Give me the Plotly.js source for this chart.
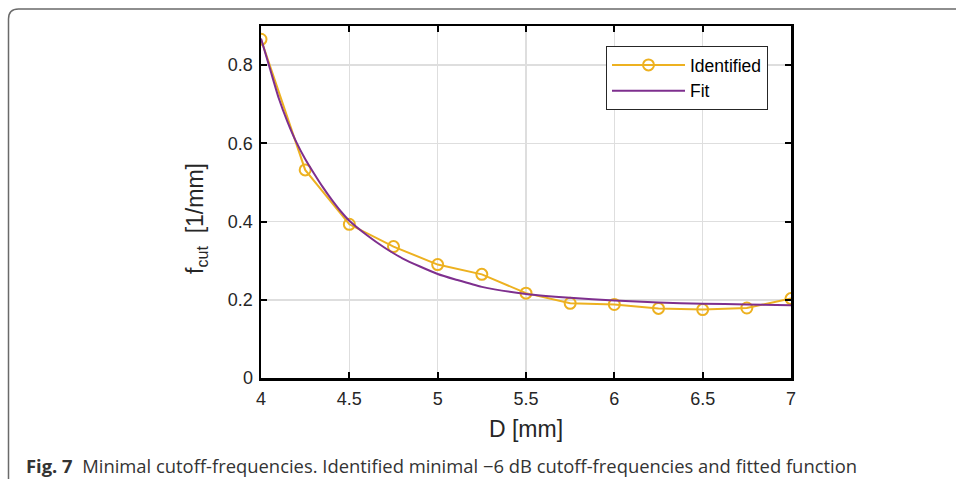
<!DOCTYPE html>
<html>
<head>
<meta charset="utf-8">
<script src="https://cdn.plot.ly/plotly-3.0.1.min.js"></script>
<style>
html,body{margin:0;padding:0;background:#fff;}
#chart{width:956px;height:479px;}
</style>
</head>
<body>
<div id="chart"></div>
<script>
// Identified minimal cutoff frequencies
const diameters = [4, 4.25, 4.5, 4.75, 5, 5.25, 5.5, 5.75, 6, 6.25, 6.5, 6.75, 7];
const identified = [0.866, 0.532, 0.393, 0.336, 0.290, 0.265, 0.217, 0.191, 0.188, 0.178, 0.175, 0.179, 0.203];
// Fitted function
const fitD = [4, 4.05, 4.1, 4.15, 4.2, 4.25, 4.3, 4.35, 4.4, 4.45, 4.5, 4.6, 4.7, 4.75, 4.8, 4.9, 5, 5.1, 5.25, 5.5, 5.75, 6, 6.25, 6.5, 6.75, 7];
const fitF = [0.868, 0.792, 0.716, 0.655, 0.603, 0.560, 0.523, 0.488, 0.456, 0.427, 0.402, 0.365, 0.333, 0.319, 0.306, 0.285, 0.266, 0.252, 0.233, 0.215, 0.205, 0.198, 0.193, 0.190, 0.188, 0.186];
const xTicks = [4, 4.5, 5, 5.5, 6, 6.5, 7];
const yTicks = [0, 0.2, 0.4, 0.6, 0.8];

const L = 261, R = 165, T = 26, B = 101;
const W = 956, H = 479;
const pw = W - L - R, ph = H - T - B;
const px = x => (x - L) / pw;
const py = y => (H - B - y) / ph;

const FONT = 'Liberation Sans, Arial, sans-serif';

const traces = [
  {
    x: diameters, y: identified, name: 'Identified', mode: 'lines+markers',
    line: {color: '#EDB120', width: 2},
    marker: {symbol: 'circle-open', size: 11, color: '#EDB120', line: {width: 2, color: '#EDB120'}}
  },
  {
    x: fitD, y: fitF, name: 'Fit', mode: 'lines',
    line: {color: '#7E2F8E', width: 2, shape: 'spline', smoothing: 0.6}
  }
];

const axisCommon = {
  showline: true, linecolor: '#000', linewidth: 2.5, mirror: 'ticks',
  ticks: 'inside', ticklen: 6, tickwidth: 2, tickcolor: '#000',
  showgrid: true, gridcolor: '#dedede', gridwidth: 1.5,
  zeroline: false,
  tickfont: {family: FONT, size: 18, color: '#262626'}
};

const layout = {
  width: W, height: H,
  margin: {l: L, r: R, t: T, b: B, pad: 0},
  paper_bgcolor: '#fff', plot_bgcolor: '#fff',
  showlegend: true,
  legend: {
    x: px(606), y: py(46), xanchor: 'left', yanchor: 'top',
    bordercolor: '#262626', borderwidth: 1, bgcolor: '#fff',
    font: {family: FONT, size: 17.5, color: '#000'},
    itemwidth: 73,
    tracegroupgap: 0
  },
  xaxis: Object.assign({}, axisCommon, {
    range: [4, 7], tickvals: xTicks, ticktext: xTicks.map(String),
    ticklabelstandoff: 3,
    title: {text: 'D [mm]', font: {family: FONT, size: 23, color: '#262626'}, standoff: 13}
  }),
  yaxis: Object.assign({}, axisCommon, {
    range: [0, 0.9], tickvals: yTicks, ticktext: yTicks.map(v => v === 0 ? '0' : v.toFixed(1)),
    ticklabelstandoff: 2
  }),
  annotations: [
    {
      xref: 'paper', yref: 'paper', x: px(196), y: py(219), xanchor: 'center', yanchor: 'middle',
      textangle: -90, showarrow: false,
      text: 'f<sub>cut</sub>\u00a0\u00a0[1/mm]',
      font: {family: FONT, size: 23, color: '#262626'}
    },
    {
      xref: 'paper', yref: 'paper', x: px(24), y: py(465), xanchor: 'left', yanchor: 'middle',
      showarrow: false, align: 'left',
      text: '<b>Fig. 7</b>\u00a0\u00a0Minimal cutoff-frequencies. Identified minimal \u22126 dB cutoff-frequencies and fitted function',
      font: {family: 'Open Sans, sans-serif', size: 18.4, color: '#333'}
    }
  ],
  shapes: [
    {
      type: 'path', xref: 'paper', yref: 'paper',
      path: 'M ' + px(8.5) + ',' + py(479) + ' L ' + px(8.5) + ',' + py(19) +
            ' Q ' + px(8.5) + ',' + py(9) + ' ' + px(18.5) + ',' + py(9) +
            ' L ' + px(956) + ',' + py(9),
      line: {color: '#6a6a6a', width: 1.5}
    }
  ]
};

Plotly.newPlot('chart', traces, layout, {displayModeBar: false, staticPlot: true});
</script>
</body>
</html>
